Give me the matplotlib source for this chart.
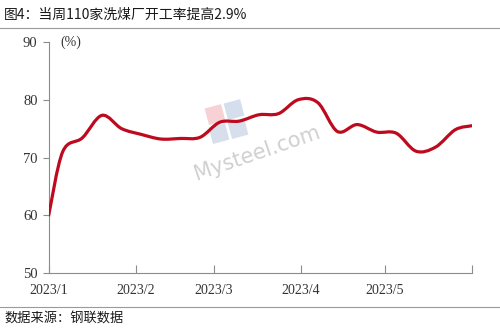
import numpy as np
import matplotlib
matplotlib.use("Agg")
import matplotlib.pyplot as plt
import matplotlib.dates as mdates
from matplotlib.path import Path
from matplotlib.patches import PathPatch, Rectangle

# weekly operating rate of 110 coal washing plants (%)
dates = ["2023-01-01", "2023-01-06", "2023-01-13", "2023-01-20", "2023-01-27",
         "2023-02-03", "2023-02-10", "2023-02-17", "2023-02-24", "2023-03-03",
         "2023-03-10", "2023-03-17", "2023-03-24", "2023-03-31", "2023-04-07",
         "2023-04-14", "2023-04-21", "2023-04-28", "2023-05-05", "2023-05-12",
         "2023-05-19", "2023-05-26", "2023-06-01"]
rates = [60.0, 71.0, 73.4, 77.3, 75.0,
         74.0, 73.2, 73.3, 73.5, 76.1,
         76.3, 77.4, 77.6, 80.0, 79.5,
         74.5, 75.7, 74.4, 74.2, 71.1,
         71.8, 74.8, 75.5]
tick_dates = ["2023-01-01", "2023-02-01", "2023-03-01", "2023-04-01", "2023-05-01", "2023-06-01"]
tick_labels = ["2023/1", "2023/2", "2023/3", "2023/4", "2023/5", ""]

plt.rcParams["font.family"] = ["Noto Sans CJK SC", "DejaVu Sans"]

fig = plt.figure(figsize=(5, 3.33), dpi=100)
ax = fig.add_axes([0.0974, 0.180, 0.8466, 0.694])
ax.patch.set_alpha(0)

x = mdates.date2num(np.array(dates, dtype="datetime64[D]"))
y = np.array(rates)

# smooth curve (Catmull-Rom segments as cubic Bezier), like the spreadsheet's smoothed line
verts = [(x[0], y[0])]
codes = [Path.MOVETO]
n = len(x)
for i in range(n - 1):
    p0 = (x[i - 1], y[i - 1]) if i > 0 else (x[i], y[i])
    p1 = (x[i], y[i])
    p2 = (x[i + 1], y[i + 1])
    p3 = (x[i + 2], y[i + 2]) if i + 2 < n else p2
    t = 1 / 6
    c1 = (p1[0] + (p2[0] - p0[0]) * t, p1[1] + (p2[1] - p0[1]) * t)
    c2 = (p2[0] - (p3[0] - p1[0]) * t, p2[1] - (p3[1] - p1[1]) * t)
    verts += [c1, c2, p2]
    codes += [Path.CURVE4] * 3
ax.add_patch(PathPatch(Path(verts, codes), fill=False, edgecolor="#BE0A1E",
                       linewidth=2.3, capstyle="round", joinstyle="round", zorder=3))

ax.set_xlim(mdates.date2num(np.datetime64("2023-01-01")),
            mdates.date2num(np.datetime64("2023-06-01")))
ax.set_ylim(50, 90)
ax.set_yticks([50, 60, 70, 80, 90])
ax.set_xticks(mdates.date2num(np.array(tick_dates, dtype="datetime64[D]")))
ax.set_xticklabels(tick_labels)

for s in ["top", "right"]:
    ax.spines[s].set_visible(False)
for s in ["left", "bottom"]:
    ax.spines[s].set_color("#8c8c8c")
    ax.spines[s].set_linewidth(0.8)
ax.tick_params(axis="y", direction="out", length=4, width=0.8, color="#8c8c8c",
               labelsize=10.5, labelcolor="#333333", pad=4)
ax.tick_params(axis="x", direction="in", length=6, width=0.8, color="#8c8c8c",
               labelsize=10, labelcolor="#333333", pad=8)
for lab in ax.get_xticklabels() + ax.get_yticklabels():
    lab.set_family("Liberation Serif")

ax.text(0.028, 1.0, "(%)", transform=ax.transAxes, ha="left", va="center",
        fontsize=10, family="Liberation Serif", color="#333333")

# watermark (logo squares + text), in pixel coordinates, behind the axes
H = 333
logo = [((209, 108), "#f2b3b8"), ((228, 103), "#b9c9e2"),
        ((213, 127), "#bfcbe0"), ((232, 122), "#bfcbe0")]
for (px, py), col in logo:
    fig.add_artist(Rectangle((px, H - py - 17), 17, 17, angle=15, transform=None,
                             facecolor=col, edgecolor="none", alpha=0.6, zorder=-1))
fig.text(0.514, 0.54, "Mysteel.com", fontsize=15, color="#c4c4c8", alpha=0.8,
         rotation=19, ha="center", va="center", family="DejaVu Sans", zorder=-1)

fig.text(0.008, 0.955, "图4：当周110家洗煤厂开工率提高2.9%", fontsize=10,
         ha="left", va="center", color="#1a1a1a")
fig.add_artist(plt.Line2D([0, 1], [0.915, 0.915], transform=fig.transFigure,
                          color="#9a9a9a", linewidth=0.8))
fig.add_artist(plt.Line2D([0, 1], [0.078, 0.078], transform=fig.transFigure,
                          color="#9a9a9a", linewidth=0.8))
fig.text(0.008, 0.043, "数据来源：钢联数据", fontsize=9.5, ha="left", va="center",
         color="#1a1a1a")

fig.savefig("out.png", dpi=100)
